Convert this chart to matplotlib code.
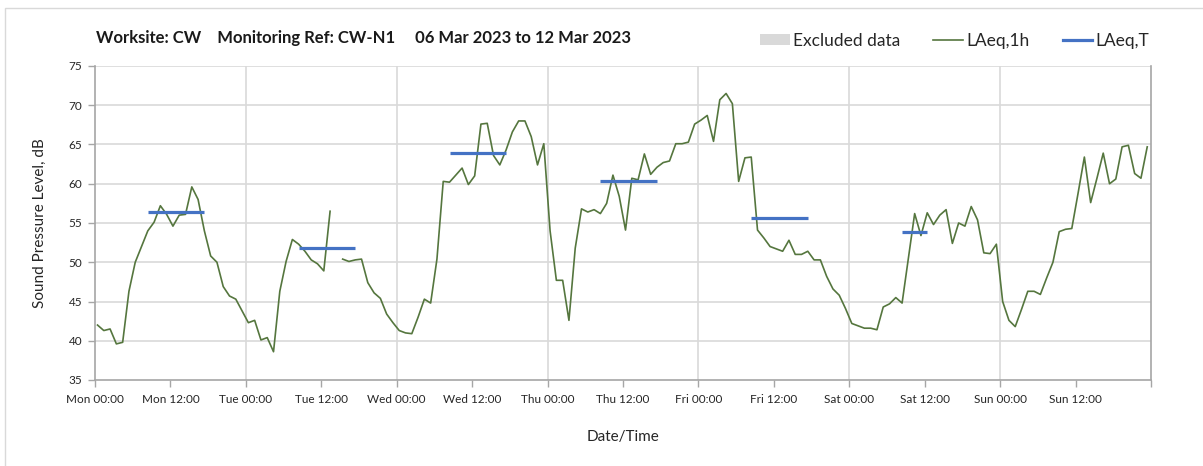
import numpy as np
import matplotlib
matplotlib.use("Agg")
import matplotlib.pyplot as plt
from matplotlib.patches import Rectangle
from matplotlib.lines import Line2D
from matplotlib.patches import Patch

plt.rcParams['font.family'] = ['Lato', 'DejaVu Sans']

# ---------------- data ----------------
title_text = "Worksite: CW    Monitoring Ref: CW-N1     06 Mar 2023 to 12 Mar 2023"
days = ["Mon", "Tue", "Wed", "Thu", "Fri", "Sat", "Sun"]

# hourly LAeq,1h, Mon 00:00 ... Sun 23:00 (nan = excluded / missing)
laeq_1h = [
    42.0, 41.3, 41.5, 39.6, 39.8, 46.3, 50.0, 52.0, 54.0, 55.1, 57.2, 56.1,
    54.6, 56.0, 56.1, 59.6, 58.0, 54.0, 50.8, 50.0, 46.9, 45.7, 45.3, 43.8,
    42.3, 42.6, 40.1, 40.4, 38.6, 46.3, 50.1, 52.9, 52.3, 51.4, 50.3, 49.8,
    48.9, 56.5, np.nan, 50.4, 50.1, 50.3, 50.4, 47.4, 46.1, 45.4, 43.4, 42.3,
    41.3, 41.0, 40.9, 43.0, 45.3, 44.8, 50.4, 60.3, 60.2, 61.1, 62.0, 59.9,
    61.0, 67.6, 67.7, 63.6, 62.4, 64.3, 66.6, 68.0, 68.0, 66.0, 62.4, 65.1,
    54.0, 47.7, 47.7, 42.6, 51.8, 56.8, 56.4, 56.7, 56.2, 57.5, 61.1, 58.4,
    54.1, 60.7, 60.5, 63.8, 61.2, 62.1, 62.7, 62.9, 65.1, 65.1, 65.3, 67.6,
    68.1, 68.7, 65.4, 70.7, 71.5, 70.2, 60.3, 63.3, 63.4, 54.1, 53.1, 52.0,
    51.7, 51.4, 52.8, 51.0, 51.0, 51.4, 50.3, 50.3, 48.2, 46.6, 45.8, 44.1,
    42.2, 41.9, 41.6, 41.6, 41.4, 44.3, 44.7, 45.5, 44.8, 50.5, 56.2, 53.4,
    56.3, 54.8, 56.0, 56.7, 52.4, 55.0, 54.6, 57.1, 55.4, 51.2, 51.1, 52.3,
    45.0, 42.6, 41.8, 44.0, 46.3, 46.3, 45.9, 48.0, 50.0, 53.9, 54.2, 54.3,
    58.8, 63.4, 57.6, 60.7, 63.9, 60.0, 60.6, 64.7, 64.9, 61.3, 60.7, 64.7,
]

# LAeq,T per day (Mon..Sat), period start/end hour of day
laeq_t_values = [56.4, 51.8, 63.9, 60.4, 55.7, 53.8]
laeq_t_start = [8, 8, 8, 8, 8, 8]
laeq_t_end = [17, 17, 17, 17, 17, 12]

tick_labels = [f"{d} {t}" for d in days for t in ("00:00", "12:00")]

# ---------------- styling ----------------
green = "#55763e"
blue = "#4472c4"
grid_c = "#d9d9d9"
spine_c = "#a6a6a6"
txt_c = "#262626"
offset = 0.4  # hourly value plotted near its hour's midpoint

fig = plt.figure(figsize=(12.03, 4.66), dpi=100)
ax = fig.add_axes([95 / 1203, 1 - 380 / 466, (1151 - 95) / 1203, (380 - 66) / 466])

hours = np.arange(len(laeq_1h)) + offset
ax.plot(hours, laeq_1h, color=green, lw=1.2, zorder=3)

for i, v in enumerate(laeq_t_values):
    ax.plot([24 * i + laeq_t_start[i] + offset, 24 * i + laeq_t_end[i] + offset],
            [v, v], color=blue, lw=2.3, solid_capstyle="butt", zorder=4)

ax.set_xlim(0, 168)
ax.set_ylim(35, 75)
ax.set_yticks(np.arange(35, 76, 5))
ax.set_xticks(np.arange(0, 168, 12))
ax.set_xticklabels(tick_labels)
ax.set_xticks(np.arange(0, 169, 24), minor=True)

ax.grid(False)
for y in np.arange(40, 76, 5):
    ax.axhline(y, color=grid_c, lw=1.2, zorder=1)
for x in np.arange(24, 168, 24):
    ax.axvline(x, color=grid_c, lw=1.2, zorder=1)

ax.spines["top"].set_visible(False)
for s in ("left", "bottom", "right"):
    ax.spines[s].set_color(spine_c)
    ax.spines[s].set_linewidth(1.2)

ax.tick_params(axis="both", which="both", color=spine_c, length=5, width=1,
               labelsize=8.5, labelcolor=txt_c, direction="out")
ax.tick_params(axis="x", which="major", pad=5)
ax.tick_params(axis="y", pad=4)

ax.set_ylabel("Sound Pressure Level, dB", fontsize=11, color=txt_c, labelpad=16)
ax.set_xlabel("Date/Time", fontsize=11, color=txt_c, labelpad=18)

fig.text(96 / 1203, 1 - 38 / 466, title_text, fontsize=12, fontweight="bold",
         color="#1a1a1a", va="center", ha="left")

handles = [Patch(facecolor="#d9d9d9", edgecolor="none", label="Excluded data"),
           Line2D([], [], color=green, lw=1.2, label="LAeq,1h"),
           Line2D([], [], color=blue, lw=2.3, label="LAeq,T")]
leg = fig.legend(handles=handles, loc="center right",
                 bbox_to_anchor=(1165 / 1203, 1 - 41 / 466),
                 ncol=3, frameon=False, fontsize=12.5, handlelength=1.7,
                 handleheight=0.6, columnspacing=1.9, handletextpad=0.2,
                 labelcolor=txt_c)

fig.patches.append(Rectangle((5 / 1203, -0.1), 1.2, 1 - 8 / 466 + 0.1,
                             transform=fig.transFigure, fill=False,
                             edgecolor="#d9d9d9", lw=1.0))

fig.savefig("out.png", dpi=100, facecolor="white")
